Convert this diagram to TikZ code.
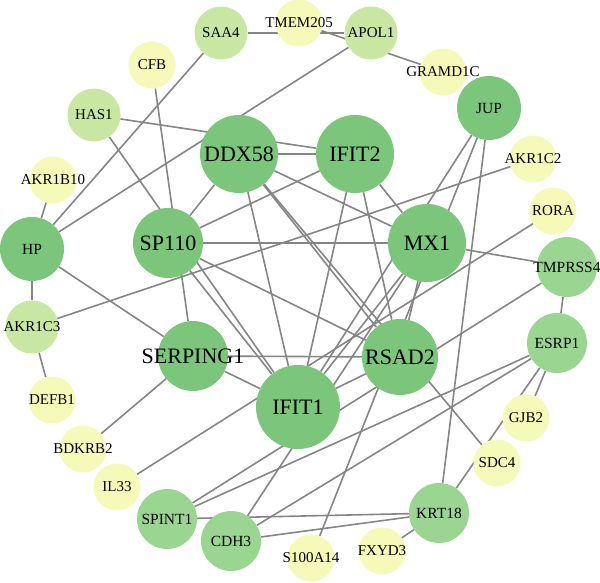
\documentclass[tikz,border=0pt]{standalone}
\usepackage{fontspec}
\setmainfont{Liberation Serif}
\usetikzlibrary{backgrounds}
\definecolor{gbig}{HTML}{7BC67B}
\definecolor{gmid}{HTML}{9AD591}
\definecolor{glight}{HTML}{C8E7A3}
\definecolor{gpale}{HTML}{F5FAB9}
\definecolor{edgec}{HTML}{858585}
\newcommand\gl[1]{\makebox[0pt]{#1}}
\begin{document}
\begin{tikzpicture}[x=1pt,y=-1pt,
  gene/.style={circle,inner sep=0pt,text=black},
  hub/.style={gene,fill=gbig,font=\fontsize{22}{22}\selectfont},
  hubs/.style={gene,fill=gbig,minimum size=64pt,font=\fontsize{15.5}{15.5}\selectfont},
  midg/.style={gene,fill=gmid,minimum size=60pt,font=\fontsize{15.5}{15.5}\selectfont},
  lightg/.style={gene,fill=glight,minimum size=53pt,font=\fontsize{15}{15}\selectfont},
  paleg/.style={gene,fill=gpale,minimum size=47pt,font=\fontsize{15}{15}\selectfont},
  link/.style={draw=edgec,line width=1.6pt}]
\useasboundingbox (0,0) rectangle (600,582);
% hubs
\node[hub,minimum size=78pt] (DDX58) at (239,154) {\gl{DDX58}};
\node[hub,minimum size=78pt] (IFIT2) at (355,154) {\gl{IFIT2}};
\node[hub,minimum size=70pt] (SP110) at (168,243) {\gl{SP110}};
\node[hub,minimum size=78pt] (MX1) at (427,243) {\gl{MX1}};
\node[hub,minimum size=70pt] (SERPING1) at (193,356) {\gl{SERPING1}};
\node[hub,minimum size=76pt] (RSAD2) at (400,357) {\gl{RSAD2}};
\node[hub,minimum size=84pt] (IFIT1) at (298,407) {\gl{IFIT1}};
\node[hubs] (JUP) at (489,108) {\gl{JUP}};
\node[hubs] (HP) at (32,249) {\gl{HP}};
% medium
\node[midg] (TMPRSS4) at (567,267) {\gl{TMPRSS4}};
\node[midg] (ESRP1) at (557,343) {\gl{ESRP1}};
\node[midg] (KRT18) at (439,513) {\gl{KRT18}};
\node[midg] (CDH3) at (231,541) {\gl{CDH3}};
\node[midg] (SPINT1) at (167,519) {\gl{SPINT1}};
% light
\node[lightg] (SAA4) at (221,33) {\gl{SAA4}};
\node[lightg] (APOL1) at (371,33) {\gl{APOL1}};
\node[lightg] (HAS1) at (94,115) {\gl{HAS1}};
\node[lightg] (AKR1C3) at (32,327) {\gl{AKR1C3}};
% pale
\node[paleg] (TMEM205) at (299,23) {\gl{TMEM205}};
\node[paleg] (GRAMD1C) at (443,72) {\gl{GRAMD1C}};
\node[paleg] (CFB) at (152,65) {\gl{CFB}};
\node[paleg] (AKR1B10) at (53,180) {\gl{AKR1B10}};
\node[paleg] (AKR1C2) at (533,159) {\gl{AKR1C2}};
\node[paleg] (RORA) at (553,211) {\gl{RORA}};
\node[paleg] (GJB2) at (526,418) {\gl{GJB2}};
\node[paleg] (SDC4) at (497,463) {\gl{SDC4}};
\node[paleg] (FXYD3) at (382,551) {\gl{FXYD3}};
\node[paleg] (S100A14) at (311,558) {\gl{S100A14}};
\node[paleg] (IL33) at (117,487) {\gl{IL33}};
\node[paleg] (BDKRB2) at (83,449) {\gl{BDKRB2}};
\node[paleg] (DEFB1) at (52,400) {\gl{DEFB1}};
\begin{pgfonlayer}{background}
\path[link] (SAA4) -- (APOL1);
\path[link] (TMEM205) -- (GRAMD1C);
\path[link] (SAA4) -- (HP);
\path[link] (HP) -- (APOL1);
\path[link] (CFB) -- (SERPING1);
\path[link] (HAS1) -- (IFIT2);
\path[link] (HAS1) -- (IFIT1);
\path[link] (AKR1B10) -- (HP);
\path[link] (HP) -- (AKR1C3);
\path[link] (HP) -- (SERPING1);
\path[link] (AKR1C3) -- (DEFB1);
\path[link] (AKR1C3) -- (AKR1C2);
\path[link] (DDX58) -- (IFIT2);
\path[link] (DDX58) -- (SP110);
\path[link] (DDX58) -- (MX1);
\path[link] (DDX58) -- (IFIT1);
\path[link] (DDX58) -- (RSAD2);
\path[link] (DDX58) -- (SDC4);
\path[link] (IFIT2) -- (SP110);
\path[link] (IFIT2) -- (MX1);
\path[link] (IFIT2) -- (IFIT1);
\path[link] (IFIT2) -- (RSAD2);
\path[link] (SP110) -- (MX1);
\path[link] (SP110) -- (IFIT1);
\path[link] (SP110) -- (RSAD2);
\path[link] (MX1) -- (TMPRSS4);
\path[link] (MX1) -- (RSAD2);
\path[link] (MX1) -- (IFIT1);
\path[link] (MX1) -- (CDH3);
\path[link] (JUP) -- (IFIT1);
\path[link] (JUP) -- (S100A14);
\path[link] (JUP) -- (KRT18);
\path[link] (SERPING1) -- (RSAD2);
\path[link] (SERPING1) -- (IFIT1);
\path[link] (SERPING1) -- (BDKRB2);
\path[link] (IFIT1) -- (RSAD2);
\path[link] (IL33) -- (RORA);
\path[link] (SPINT1) -- (TMPRSS4);
\path[link] (SPINT1) -- (ESRP1);
\path[link] (CDH3) -- (ESRP1);
\path[link] (SPINT1) -- (KRT18);
\path[link] (CDH3) -- (KRT18);
\path[link] (KRT18) -- (FXYD3);
\path[link] (KRT18) -- (ESRP1);
\path[link] (ESRP1) -- (GJB2);
\path[link] (TMPRSS4) -- (ESRP1);
\end{pgfonlayer}
\end{tikzpicture}
\end{document}
